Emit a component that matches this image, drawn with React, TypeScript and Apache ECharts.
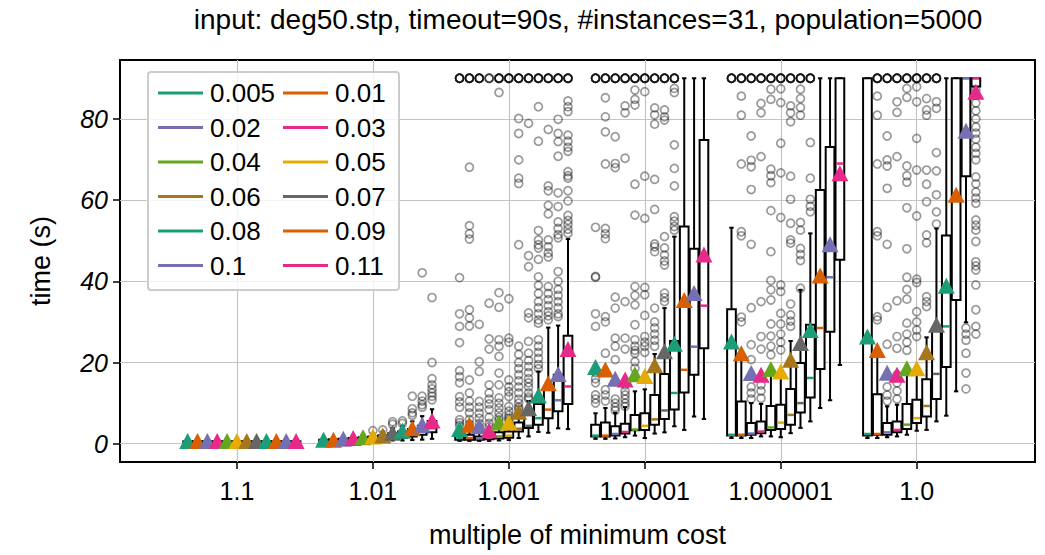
import React, { useEffect, useRef } from "react";
import * as echarts from "echarts";

const categories = ["1.1", "1.01", "1.001", "1.00001", "1.000001", "1.0"];
const params = ["0.005", "0.01", "0.02", "0.03", "0.04", "0.05", "0.06", "0.07", "0.08", "0.09", "0.1", "0.11"];
const palette = ["#1b9e77", "#d95f02", "#7570b3", "#e7298a", "#66a61e", "#e6ab02", "#a6761d", "#666666", "#1b9e77", "#d95f02", "#7570b3", "#e7298a"];
const yTicks = [0, 20, 40, 60, 80];

// box stats per series: [whiskerLow, q1, median, q3, whiskerHigh]
const boxesG0 = [
  [0.3, 0.45, 0.5, 0.6, 0.8], [0.3, 0.45, 0.5, 0.6, 0.8], [0.3, 0.45, 0.5, 0.6, 0.8], [0.3, 0.45, 0.5, 0.6, 0.8],
  [0.3, 0.45, 0.5, 0.6, 0.8], [0.3, 0.45, 0.5, 0.6, 0.8], [0.3, 0.45, 0.5, 0.6, 0.8], [0.3, 0.45, 0.5, 0.6, 0.8],
  [0.3, 0.45, 0.5, 0.6, 0.9], [0.3, 0.45, 0.5, 0.6, 0.9], [0.3, 0.45, 0.5, 0.6, 0.9], [0.3, 0.45, 0.5, 0.6, 0.9],
];
const meansG0 = [0.7, 0.7, 0.7, 0.7, 0.7, 0.7, 0.7, 0.7, 0.7, 0.7, 0.7, 0.7];
const outliersG0: number[][] = [[], [], [], [], [], [], [], [], [], [], [], []];

const boxesG1 = [
  [0.4, 0.6, 0.8, 1.0, 1.4], [0.4, 0.6, 0.8, 1.1, 1.5], [0.5, 0.7, 0.9, 1.2, 1.7], [0.5, 0.8, 1.0, 1.4, 2.0],
  [0.6, 0.9, 1.2, 1.6, 2.3], [0.6, 1.0, 1.3, 1.8, 2.6], [0.7, 1.1, 1.5, 2.1, 3.0], [0.8, 1.3, 1.8, 2.6, 3.8],
  [0.8, 1.5, 2.0, 3.0, 4.3], [0.9, 1.8, 2.5, 3.6, 5.5], [1.0, 2.2, 3.0, 4.4, 6.8], [1.2, 2.8, 3.8, 5.6, 8.5],
];
const meansG1 = [1.0, 1.0, 1.2, 1.4, 1.6, 1.8, 2.0, 2.7, 3.2, 3.8, 4.7, 5.7];
const outliersG1 = [
  [], [], [], [], [], [3.2], [3.4], [4.8, 5.4], [5.0, 5.6], [7.0, 7.6, 8.6, 11.7],
  [9.0, 9.6, 10.5, 11.7, 42.1], [10.8, 11.7, 12.5, 13.5, 14.5, 16, 20, 36],
];

const boxesG2 = [
  [0.7, 1.0, 1.4, 2.0, 3.5], [0.7, 1.0, 1.4, 2.2, 3.8], [0.7, 1.0, 1.3, 1.8, 3.0], [0.7, 1.1, 1.5, 2.2, 3.8],
  [0.8, 1.3, 1.8, 2.8, 5.0], [0.9, 1.5, 2.0, 3.0, 5.2], [1.4, 3.0, 3.7, 5.2, 8.0], [1.8, 3.9, 4.4, 7.0, 10.5],
  [2.9, 4.7, 6.3, 9.8, 17.8], [2.7, 6.3, 8.4, 13.3, 28.6], [3.8, 8.0, 10.7, 17.0, 29.1], [3.6, 9.8, 14.1, 26.6, 50.4],
];
const meansG2 = [3.6, 4.7, 4.3, 3.3, 5.2, 5.2, 7.9, 8.8, 11.9, 14.9, 17.2, 23.3];
const outliersG2 = [
  [90, 90, 90, 90, 90, 40.9, 32, 28.9, 24.9, 18, 16.5, 15, 11.6, 10.3, 9, 5.9, 5.2, 4.5],
  [90, 90, 90, 90, 90, 68.1, 53.7, 51.7, 50.4, 33, 31, 29, 15.7, 12.5, 10.5, 9, 7.6, 6, 4.8],
  [90, 90, 90, 90, 90, 29.4, 20.2, 17.8, 10.4, 9, 7.5, 6.3, 5, 4],
  [90, 90, 90, 34.6, 25.8, 23.3, 14.5, 12.5, 11, 9.8, 8.4, 6.5, 5, 4.2],
  [90, 90, 90, 90, 90, 86.5, 37.2, 33.6, 25.6, 24, 21.5, 17.4, 14.5, 11.3, 10, 8.8, 7.6, 6.5, 5.8],
  [90, 90, 90, 90, 90, 35.7, 26, 25, 15.7, 14, 12.8, 11.6, 9.2, 8, 7, 6.3, 5.8],
  [90, 90, 90, 90, 90, 80.1, 76.4, 69.9, 65.4, 64.1, 49, 24, 22, 20, 18.5, 17, 15.5, 14, 12.5, 11, 10, 9, 8.5],
  [90, 90, 90, 90, 90, 78.9, 46.3, 43.6, 32.2, 31, 25.2, 22.3, 20.5, 19, 17.5, 16, 15, 14, 12.5, 11.5, 11],
  [90, 90, 90, 90, 90, 83, 74.5, 52.5, 50.2, 49, 48.2, 45.4, 41.1, 39, 37, 35, 33.5, 32, 30.5, 29.7, 25.6, 24, 22.5, 21, 19.5, 18.5],
  [90, 90, 90, 90, 90, 77.4, 63.5, 62.3, 58.7, 56.6, 50.2, 48.5, 47, 46, 38.7, 37, 35.5, 34, 32.5, 31.5, 30.5],
  [90, 90, 90, 90, 90, 79.9, 76.4, 74.4, 70.8, 61.8, 58.4, 54.6, 53, 51.5, 50.7, 42.4, 40, 38, 36.5, 35, 33.5, 32, 31.3],
  [90, 90, 90, 90, 90, 84.4, 83, 81.8, 76, 74.5, 73, 72, 67, 66, 65.4, 62.3, 59.8, 56.2, 55, 54, 52.8, 51.8],
];

const boxesG3 = [
  [1.2, 1.8, 2.0, 4.7, 7.5], [1.2, 1.8, 2.0, 5.2, 8.8], [1.3, 2.0, 2.4, 4.3, 7.6], [1.6, 2.5, 2.9, 4.9, 9.0],
  [2.0, 3.3, 3.5, 7.1, 12.9], [1.4, 3.4, 4.4, 7.5, 13.4], [2.5, 4.7, 6.0, 12.0, 22.1], [2.8, 6.1, 8.2, 17.2, 33.4],
  [4.3, 8.4, 12.5, 25.3, 51.0], [3.4, 12.6, 18.2, 53.5, 90], [6.7, 17.0, 23.9, 48.0, 90], [6.1, 23.5, 34.0, 74.8, 90],
];
const meansG3 = [18.9, 18.3, 16.0, 15.8, 17.1, 16.7, 19.3, 22.8, 24.6, 35.4, 37.1, 46.6];
const outliersG3 = [
  [90, 90, 90, 90, 90, 53.3, 41.2, 41, 32, 28.9, 17.5, 16, 15, 12, 11, 10],
  [90, 90, 90, 90, 90, 85.2, 80.5, 76.8, 68.9, 53, 51.7, 50.5, 31.3, 30, 22.3, 13.3, 12, 10.5],
  [90, 90, 90, 90, 90, 75.6, 69, 68, 36.1, 33.4, 26, 24, 20.7, 11, 10, 9, 8.2],
  [90, 90, 90, 90, 90, 83.2, 81.5, 70.3, 35, 26, 23.3, 14.5, 13, 12, 11, 10, 9.2],
  [90, 90, 90, 90, 90, 87.1, 84.8, 83.4, 63.9, 56.3, 38.7, 36.5, 34.2, 29.3, 25.6, 24, 23, 22.3, 20.2, 18.6],
  [90, 90, 90, 90, 90, 86.7, 65.9, 55.5, 38.5, 36.7, 31.6, 26.4, 25, 24, 22.5],
  [90, 90, 90, 90, 90, 82.7, 81, 78.7, 65.1, 57.7, 49.2, 48.5, 47.3, 33.4, 30, 28.5, 27, 25.5, 24],
  [90, 90, 90, 90, 90, 82.2, 80.5, 79.7, 51, 48.2, 46.5, 45, 44, 37.1, 36, 35],
  [90, 90, 90, 90, 90, 87.5, 86.5, 73.6, 67.8, 63.5, 55.9, 54.8, 53.5, 52.6],
  [], [], [],
];

const boxesG4 = [
  [1.4, 2.0, 2.2, 33.1, 53.2], [1.4, 2.0, 2.2, 10.4, 22.0], [1.4, 2.2, 2.5, 5.1, 10.0], [1.8, 2.6, 3.0, 5.5, 9.8],
  [1.8, 3.4, 4.0, 9.3, 17.0], [1.6, 3.6, 5.2, 9.6, 17.5], [2.6, 4.7, 7.1, 13.5, 25.3], [3.9, 7.7, 10.0, 19.9, 37.9],
  [5.5, 11.4, 16.2, 29.3, 51.8], [8.8, 18.4, 28.5, 62.5, 90], [10.7, 27.6, 41.0, 73.1, 90], [19.4, 45.3, 69.0, 90, 90],
];
const meansG4 = [25.2, 22.3, 17.4, 17.0, 18.4, 17.8, 20.7, 24.8, 28.0, 41.4, 49.1, 66.6];
const outliersG4 = [
  [90, 90, 90, 90, 90],
  [90, 90, 90, 90, 90, 85.6, 80.9, 68.9, 52.2, 51.2, 31.2, 30],
  [90, 90, 90, 90, 90, 75.8, 69.8, 68.2, 62.6, 49.1, 33.5, 24.4, 20.7, 14, 12.5, 11],
  [90, 90, 90, 90, 90, 83.8, 81.5, 70.7, 35, 26.4, 23.3, 16.5, 14.5, 13, 11.2],
  [90, 90, 90, 90, 90, 87.3, 84.8, 67.6, 66, 64.3, 57.4, 47.3, 40.2, 37.9, 35.4, 29.5, 26.5, 24, 21.9],
  [90, 90, 90, 90, 90, 87.4, 84, 74, 66.7, 55.7, 39.1, 37.5, 32.1, 29.5, 27, 25, 23.1],
  [90, 90, 90, 90, 90, 83.2, 81.5, 79.3, 65.9, 60.2, 54.3, 50.2, 49.4, 34.4, 31.7, 30.2, 28.9],
  [90, 90, 90, 90, 90, 87.3, 85, 82.8, 80.9, 54.5, 52.6, 48.1, 46.6, 45.1, 38.3],
  [90, 90, 90, 90, 90, 74.2, 65.4, 60.2, 58.5, 57.1],
  [], [], [],
];

const boxesG5 = [
  [1.4, 2.0, 2.4, 90, 90], [1.4, 2.2, 2.4, 12.2, 23.0], [1.6, 2.2, 2.8, 5.1, 9.2], [1.8, 2.8, 3.4, 5.5, 9.6],
  [2.2, 3.6, 4.7, 9.8, 17.0], [3.2, 5.1, 6.3, 10.8, 19.0], [3.4, 6.7, 9.3, 15.9, 26.2], [5.5, 11.0, 17.2, 28.0, 53.0],
  [6.9, 18.9, 28.9, 51.3, 90], [12.9, 35.4, 60.0, 90, 90], [29.9, 65.9, 90, 90, 90], [85.0, 88.0, 90, 90, 90],
];
const meansG5 = [26.4, 23.1, 17.5, 17.0, 18.6, 18.6, 22.5, 29.3, 38.9, 61.3, 77.1, 86.7];
const outliersG5 = [
  [],
  [90, 90, 90, 90, 90, 85.6, 80.9, 68.9, 52.2, 51.2, 31.3, 30.5],
  [90, 90, 90, 90, 90, 75.8, 69.9, 68.4, 62.9, 49.1, 33.6, 24.5, 14, 12, 10.5],
  [90, 90, 90, 90, 90, 84.2, 81.6, 70.7, 35.2, 26.4, 23.5, 17, 15, 13, 11],
  [90, 90, 90, 90, 90, 87.5, 85.3, 68.4, 66, 64.4, 58.1, 48, 41, 38, 35.6, 29.7, 27, 25, 23],
  [90, 90, 90, 90, 90, 87.9, 84.2, 75.2, 67.4, 56.1, 40.5, 39.7, 32.5, 30, 28, 26.4],
  [90, 90, 90, 90, 90, 85, 82.2, 80.9, 67.4, 63.9, 59.6, 51.4, 49.5, 36.2, 35, 33.8],
  [90, 90, 90, 90, 90, 84.2, 82.6, 71.7, 67.2, 61.3, 57.1, 54.1],
  [],
  [],
  [28.5, 27, 25.5, 22.3, 17.4, 13.5],
  [87.1, 83.9, 82, 80, 78, 76.5, 75, 73, 71.5, 69.9, 65.7, 64, 62, 60.5, 59.2, 55.1, 53.8, 52.6, 49.8, 44.8, 43.8, 42.8, 39.1, 33, 28.9, 27],
];

const allBoxes = [boxesG0, boxesG1, boxesG2, boxesG3, boxesG4, boxesG5];
const allMeans = [meansG0, meansG1, meansG2, meansG3, meansG4, meansG5];
const allOutliers = [outliersG0, outliersG1, outliersG2, outliersG3, outliersG4, outliersG5];

const STEP = 0.0725;
const BOX_W = 0.064;
const FONT = "Liberation Sans";
const xPos = (k: number, i: number) => k + (i - 5) * STEP;

export default function App() {
  const ref = useRef<HTMLDivElement>(null);
  useEffect(() => {
    if (!ref.current) return;
    const chart = echarts.init(ref.current, null, { renderer: "svg" });

    const boxSeries = params.map((name, i) => ({
      name,
      type: "custom",
      z: 3,
      itemStyle: { color: palette[i] },
      data: allBoxes.map((g, k) => [xPos(k, i), ...g[i]]),
      encode: { x: 0, y: [1, 2, 3, 4, 5] },
      renderItem: (p: any, api: any) => {
        const x = api.value(0);
        const pl = api.coord([x, api.value(1)]);
        const p1 = api.coord([x, api.value(2)]);
        const pm = api.coord([x, api.value(3)]);
        const p3 = api.coord([x, api.value(4)]);
        const ph = api.coord([x, api.value(5)]);
        const bw = api.size([BOX_W, 0])[0];
        const hw = bw / 2;
        const cw = bw / 4;
        const ls = { stroke: "#000", lineWidth: 2 };
        return {
          type: "group",
          children: [
            { type: "line", shape: { x1: pl[0], y1: pl[1], x2: p1[0], y2: p1[1] }, style: ls },
            { type: "line", shape: { x1: p3[0], y1: p3[1], x2: ph[0], y2: ph[1] }, style: ls },
            { type: "line", shape: { x1: pl[0] - cw, y1: pl[1], x2: pl[0] + cw, y2: pl[1] }, style: ls },
            { type: "line", shape: { x1: ph[0] - cw, y1: ph[1], x2: ph[0] + cw, y2: ph[1] }, style: ls },
            {
              type: "rect",
              shape: { x: p1[0] - hw, y: p3[1], width: bw, height: p1[1] - p3[1] },
              style: { fill: "#fff", stroke: "#000", lineWidth: 2 },
            },
            {
              type: "line",
              shape: { x1: pm[0] - hw + 1, y1: pm[1], x2: pm[0] + hw - 1, y2: pm[1] },
              style: { stroke: palette[i], lineWidth: 2.5 },
            },
          ],
        };
      },
    }));

    const meanSeries = params.map((name, i) => ({
      name,
      type: "scatter",
      z: 5,
      symbol: "triangle",
      symbolSize: [17, 16],
      itemStyle: { color: palette[i], opacity: 1 },
      data: allMeans.map((g, k) => [xPos(k, i), g[i]]),
    }));

    const outlierData: number[][] = [];
    allOutliers.forEach((g, k) =>
      g.forEach((list, i) => list.forEach((v) => outlierData.push([xPos(k, i), v])))
    );

    const legendCommon = {
      orient: "vertical",
      icon: "rect",
      itemWidth: 45,
      itemHeight: 3,
      itemGap: 8.5,
      padding: 0,
      z: 10,
      selectedMode: false,
      textStyle: { fontFamily: FONT, fontSize: 26, color: "#000", padding: [0, 0, 0, 2] },
    };

    chart.setOption({
      animation: false,
      textStyle: { fontFamily: FONT },
      title: {
        text: "input: deg50.stp, timeout=90s, #instances=31, population=5000",
        left: 583,
        top: 0,
        textAlign: "center",
        textStyle: { fontFamily: FONT, fontSize: 28, fontWeight: "normal", color: "#000" },
      },
      grid: { left: 120, right: 10, top: 60, bottom: 93, show: true, borderColor: "#000", borderWidth: 2, backgroundColor: "transparent" },
      legend: [
        { ...legendCommon, left: 158, top: 80, data: params.filter((_, i) => i % 2 === 0) },
        { ...legendCommon, left: 283, top: 80, data: params.filter((_, i) => i % 2 === 1) },
      ],
      graphic: [
        {
          type: "rect",
          z: 8,
          shape: { x: 148, y: 72, width: 251, height: 218, r: 3 },
          style: { fill: "rgba(255,255,255,0.8)", stroke: "#cccccc", lineWidth: 2 },
        },
      ],
      xAxis: {
        type: "value",
        min: -0.86,
        max: 5.87,
        name: "multiple of minimum cost",
        nameLocation: "middle",
        nameGap: 59,
        nameTextStyle: { fontFamily: FONT, fontSize: 27, color: "#000" },
        axisLine: { show: false, onZero: false },
        axisTick: { show: true, length: 7, lineStyle: { color: "#000", width: 1.5 }, customValues: [0, 1, 2, 3, 4, 5] },
        axisLabel: {
          customValues: [0, 1, 2, 3, 4, 5],
          margin: 16,
          fontFamily: FONT,
          fontSize: 25,
          color: "#000",
          formatter: (v: number) => categories[Math.round(v)] ?? "",
        },
        splitLine: { show: true, lineStyle: { color: "#c4c4c4", width: 1.2 } },
      },
      yAxis: {
        type: "value",
        min: -4.5,
        max: 94.5,
        name: "time (s)",
        nameLocation: "middle",
        nameGap: 66,
        nameRotate: 90,
        nameTextStyle: { fontFamily: FONT, fontSize: 27, color: "#000" },
        axisLine: { show: false, onZero: false },
        axisTick: { show: true, length: 7, lineStyle: { color: "#000", width: 1.5 }, customValues: yTicks },
        axisLabel: { customValues: yTicks, margin: 12, fontFamily: FONT, fontSize: 25, fontStyle: "italic", color: "#000" },
        splitLine: { show: true, lineStyle: { color: "#c4c4c4", width: 1.2 } },
      },
      series: [
        {
          name: "_outliers",
          type: "scatter",
          z: 2,
          symbol: "circle",
          symbolSize: 8,
          itemStyle: { color: "transparent", borderColor: "rgba(0,0,0,0.5)", borderWidth: 1.7 },
          data: outlierData,
        },
        ...boxSeries,
        ...meanSeries,
      ],
    });
    return () => chart.dispose();
  }, []);
  return <div ref={ref} style={{ position: "absolute", left: 0, top: 0, width: 1045, height: 555 }} />;
}
